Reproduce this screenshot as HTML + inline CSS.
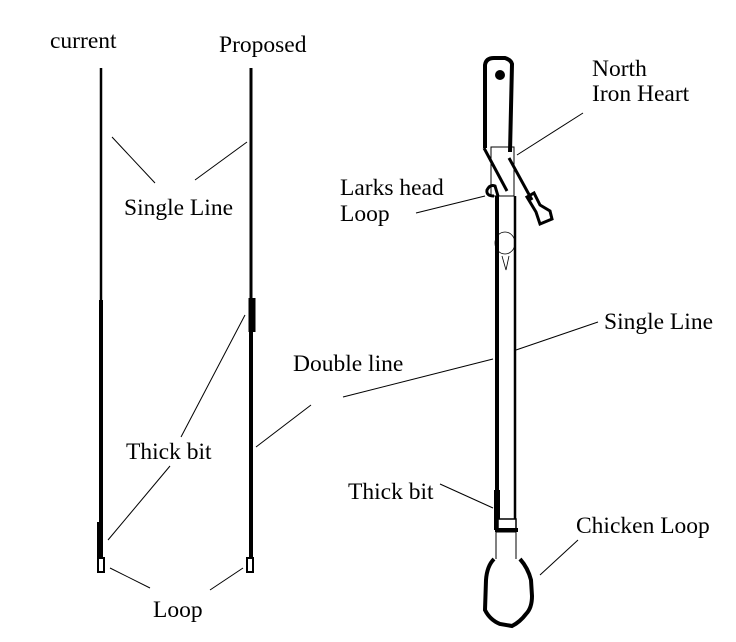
<!DOCTYPE html>
<html><head><style>
html,body{margin:0;padding:0;background:#fff;}
svg{display:block;}
text{font-family:"Liberation Serif",serif;font-size:23.5px;fill:#000;}
</style></head><body>
<svg width="736" height="642" viewBox="0 0 736 642" xmlns="http://www.w3.org/2000/svg">
<rect width="736" height="642" fill="#fff"/>
<line x1="101" y1="68" x2="101" y2="300" stroke="#000" stroke-width="2.5"/>
<line x1="101" y1="300" x2="101" y2="522" stroke="#000" stroke-width="4"/>
<line x1="100" y1="522" x2="100" y2="558" stroke="#000" stroke-width="6"/>
<rect x="98" y="558" width="6" height="14" fill="#fff" stroke="#000" stroke-width="2"/>
<line x1="251" y1="68" x2="251" y2="298" stroke="#000" stroke-width="3"/>
<line x1="252" y1="298" x2="252" y2="332" stroke="#000" stroke-width="7"/>
<line x1="251" y1="332" x2="251" y2="558" stroke="#000" stroke-width="4"/>
<rect x="247" y="558" width="6" height="14" fill="#fff" stroke="#000" stroke-width="2"/>
<text x="50" y="48">current</text>
<text x="219" y="52">Proposed</text>
<text x="124" y="215">Single Line</text>
<text x="293" y="371">Double line</text>
<text x="126" y="459">Thick bit</text>
<text x="153" y="617">Loop</text>
<g stroke="#000" stroke-width="1">
<line x1="112" y1="137" x2="155" y2="183"/>
<line x1="247" y1="142" x2="195" y2="180"/>
<line x1="343" y1="397" x2="493" y2="359"/>
<line x1="311" y1="405" x2="256" y2="447"/>
<line x1="245" y1="315" x2="181" y2="437"/>
<line x1="170" y1="466" x2="108" y2="540"/>
<line x1="110" y1="568" x2="150" y2="588"/>
<line x1="243" y1="568" x2="210" y2="590"/>
<line x1="583" y1="113" x2="517" y2="155"/>
<line x1="416" y1="213" x2="485" y2="196"/>
<line x1="598" y1="322" x2="516" y2="350"/>
<line x1="440" y1="484" x2="493" y2="508"/>
<line x1="578" y1="540" x2="540" y2="575"/>
</g>
<text x="592" y="76">North</text>
<text x="592" y="101">Iron Heart</text>
<text x="340" y="195">Larks head</text>
<text x="340" y="221">Loop</text>
<text x="604" y="329">Single Line</text>
<text x="348" y="499">Thick bit</text>
<text x="576" y="533">Chicken Loop</text>
<path d="M485 148 L485 65 Q486 58 494 58 L505 58 Q511 60 512 64 L510 152" fill="none" stroke="#000" stroke-width="4"/>
<circle cx="500" cy="75" r="5" fill="#000"/>
<rect x="491" y="147" width="23" height="49" fill="none" stroke="#000" stroke-width="1"/>
<line x1="484" y1="148" x2="507" y2="191" stroke="#000" stroke-width="3"/>
<line x1="509" y1="158" x2="532" y2="200" stroke="#000" stroke-width="3"/>
<path d="M527 197 L534 193 L540 205 L550 211 L552 219 L540 224 L536 212 Z" fill="none" stroke="#000" stroke-width="3"/>
<path d="M494 196 Q486 196 487 190 Q490 184 495 186 L498 196" fill="none" stroke="#000" stroke-width="3"/>
<line x1="497" y1="196" x2="497" y2="490" stroke="#000" stroke-width="4"/>
<line x1="515" y1="196" x2="515" y2="520" stroke="#000" stroke-width="2.5"/>
<line x1="497" y1="490" x2="497" y2="530" stroke="#000" stroke-width="6"/>
<ellipse cx="505" cy="243" rx="10" ry="11" fill="none" stroke="#000" stroke-width="0.8"/>
<path d="M502 256 L506 270 L509 256" fill="none" stroke="#000" stroke-width="0.8"/>
<rect x="498" y="519" width="18" height="11" fill="#fff" stroke="#000" stroke-width="1.5"/>
<line x1="495" y1="530" x2="518" y2="530" stroke="#000" stroke-width="4"/>
<rect x="496" y="532" width="20" height="28" fill="#fff" stroke="#000" stroke-width="1"/>
<path d="M494 559 Q487 566 486 580 L485 610 Q490 620 500 624 L512 626 Q520 622 526 614 Q532 608 532 596 L531 580 Q528 568 520 559" fill="#fff" stroke="#000" stroke-width="4"/>
</svg>
</body></html>
